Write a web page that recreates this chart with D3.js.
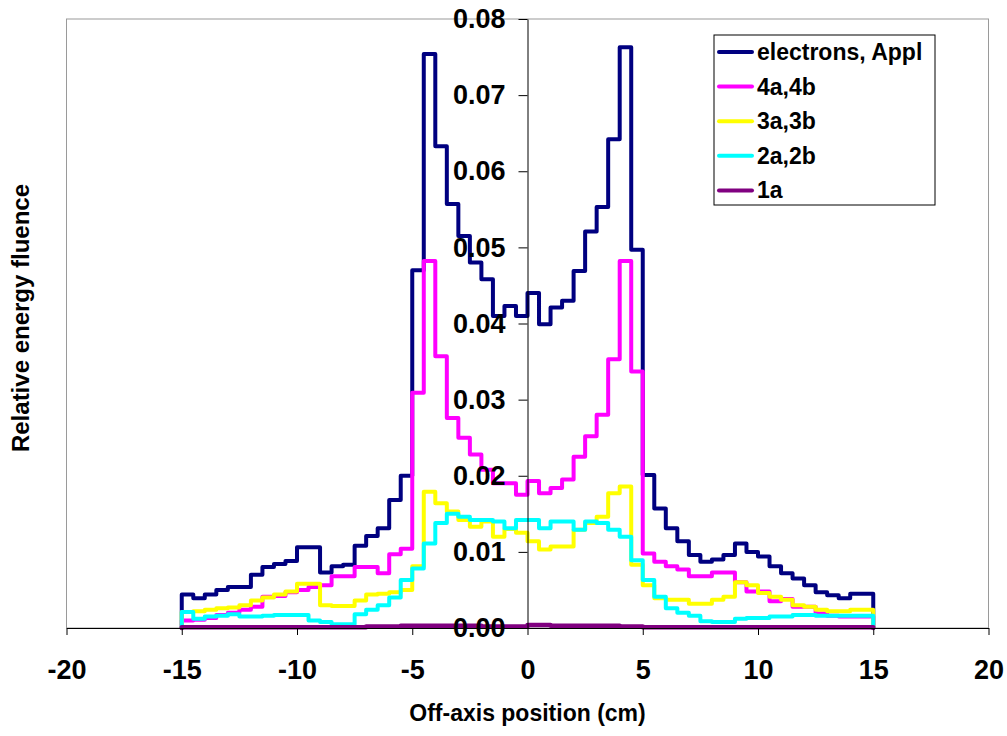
<!DOCTYPE html>
<html>
<head>
<meta charset="utf-8">
<script src="https://cdn.jsdelivr.net/npm/d3@7"></script>
<style>
  body { margin: 0; background: #fff; }
  text { font-family: Arial, "Liberation Sans", sans-serif; font-weight: bold; fill: #000; }
</style>
</head>
<body>
<div id="chart"></div>
<script>
// bin edges along the off-axis position (cm)
const binEdges = [-15, -14.5, -14, -13.5, -13, -12.5, -12, -11.5, -11, -10.5,
  -10, -9.5, -9, -8.5, -8, -7.5, -7, -6.5, -6, -5.5,
  -5, -4.5, -4, -3.5, -3, -2.5, -2, -1.5, -1, -0.5,
  0, 0.5, 1, 1.5, 2, 2.5, 3, 3.5, 4, 4.5,
  5, 5.5, 6, 6.5, 7, 7.5, 8, 8.5, 9, 9.5,
  10, 10.5, 11, 11.5, 12, 12.5, 13, 13.5, 14, 14.5, 15];

const electrons = [0.0044, 0.0039, 0.0044, 0.0050, 0.0054, 0.0054, 0.0070, 0.0080, 0.0084, 0.0088,
  0.0106, 0.0106, 0.0073, 0.0081, 0.0083, 0.0108, 0.0121, 0.0131, 0.0168, 0.0200,
  0.0470, 0.0754, 0.0633, 0.0557, 0.0515, 0.0480, 0.0458, 0.0410, 0.0423, 0.0410,
  0.0440, 0.0399, 0.0421, 0.0430, 0.0469, 0.0521, 0.0553, 0.0642, 0.0763, 0.0497,
  0.0201, 0.0157, 0.0131, 0.0114, 0.0096, 0.0087, 0.0090, 0.0096, 0.0111, 0.0100,
  0.0094, 0.0081, 0.0072, 0.0065, 0.0056, 0.0047, 0.0043, 0.0039, 0.0045, 0.0045];

const s4 = [0.0010, 0.0011, 0.0013, 0.0017, 0.0020, 0.0024, 0.0028, 0.0041, 0.0042, 0.0047,
  0.0050, 0.0054, 0.0056, 0.0068, 0.0068, 0.0080, 0.0080, 0.0072, 0.0097, 0.0104,
  0.0309, 0.0482, 0.0357, 0.0276, 0.0250, 0.0228, 0.0208, 0.0190, 0.0190, 0.0175,
  0.0193, 0.0177, 0.0184, 0.0195, 0.0225, 0.0252, 0.0280, 0.0353, 0.0482, 0.0337,
  0.0098, 0.0087, 0.0081, 0.0077, 0.0068, 0.0068, 0.0073, 0.0073, 0.0060, 0.0048,
  0.0048, 0.0035, 0.0038, 0.0028, 0.0028, 0.0019, 0.0016, 0.0015, 0.0015, 0.0015];

const s3 = [0.0021, 0.0022, 0.0024, 0.0026, 0.0027, 0.0030, 0.0036, 0.0040, 0.0044, 0.0048,
  0.0058, 0.0058, 0.0030, 0.0029, 0.0029, 0.0036, 0.0044, 0.0045, 0.0047, 0.0050,
  0.0081, 0.0179, 0.0164, 0.0153, 0.0142, 0.0133, 0.0140, 0.0120, 0.0130, 0.0125,
  0.0114, 0.0103, 0.0107, 0.0107, 0.0129, 0.0138, 0.0146, 0.0177, 0.0186, 0.0083,
  0.0056, 0.0039, 0.0037, 0.0037, 0.0032, 0.0032, 0.0037, 0.0041, 0.0060, 0.0056,
  0.0046, 0.0041, 0.0037, 0.0030, 0.0028, 0.0024, 0.0022, 0.0022, 0.0024, 0.0024];

const s2 = [0.0021, 0.0012, 0.0015, 0.0016, 0.0018, 0.0015, 0.0015, 0.0016, 0.0017, 0.0017,
  0.0017, 0.0010, 0.0008, 0.0005, 0.0005, 0.0018, 0.0024, 0.0030, 0.0040, 0.0063,
  0.0078, 0.0111, 0.0138, 0.0150, 0.0146, 0.0142, 0.0142, 0.0140, 0.0131, 0.0142,
  0.0142, 0.0131, 0.0140, 0.0140, 0.0129, 0.0140, 0.0138, 0.0129, 0.0120, 0.0089,
  0.0063, 0.0041, 0.0026, 0.0020, 0.0016, 0.0009, 0.0008, 0.0008, 0.0012, 0.0013,
  0.0013, 0.0015, 0.0015, 0.0017, 0.0017, 0.0016, 0.0016, 0.0016, 0.0016, 0.0016];

const s1 = [0.0001, 0.0001, 0.0001, 0.0001, 0.0001, 0.0001, 0.0001, 0.0001, 0.0001, 0.0001,
  0.0001, 0.0001, 0.0001, 0.0001, 0.0001, 0.0001, 0.0002, 0.0002, 0.0002, 0.0003,
  0.0003, 0.0003, 0.0003, 0.0003, 0.0003, 0.0003, 0.0002, 0.0002, 0.0002, 0.0002,
  0.0004, 0.0004, 0.0003, 0.0003, 0.0003, 0.0003, 0.0003, 0.0003, 0.0002, 0.0002,
  0.0001, 0.0001, 0.0001, 0.0001, 0.0001, 0.0001, 0.0001, 0.0001, 0.0001, 0.0001,
  0.0001, 0.0001, 0.0001, 0.0001, 0.0001, 0.0001, 0.0001, 0.0001, 0.0001, 0.0001];

const seriesNames = ["electrons, Appl", "4a,4b", "3a,3b", "2a,2b", "1a"];
const seriesValues = [electrons, s4, s3, s2, s1];
const seriesColors = ["#000080", "#FF00FF", "#FFFF00", "#00FFFF", "#800080"];

const xTicks = [-20, -15, -10, -5, 0, 5, 10, 15, 20];
const yTicks = [0, 0.01, 0.02, 0.03, 0.04, 0.05, 0.06, 0.07, 0.08];

const width = 1007;
const height = 736;

const svg = d3.select("#chart")
  .append("svg")
  .attr("width", width)
  .attr("height", height);

const x = d3.scaleLinear().domain([-20, 20]).range([66.5, 988.5]);
const y = d3.scaleLinear().domain([0, 0.08]).range([628, 19]);

/*
Plot area frame
*/
svg.append("rect")
  .attr("x", x(-20))
  .attr("y", y(0.08))
  .attr("width", x(20) - x(-20))
  .attr("height", y(0) - y(0.08))
  .attr("fill", "none")
  .attr("stroke", "#9a9a9a")
  .attr("stroke-width", 1);

/*
Series, drawn first to last like the source
*/
const line = d3.line()
  .x(d => x(d[0]))
  .y(d => y(d[1]))
  .curve(d3.curveStepAfter);

seriesValues.forEach((vals, k) => {
  var pts = [[binEdges[0], 0]];
  vals.forEach((v, i) => pts.push([binEdges[i], v]));
  pts.push([binEdges[binEdges.length - 1], vals[vals.length - 1]]);
  pts.push([binEdges[binEdges.length - 1], 0]);
  svg.append("path")
    .datum(pts)
    .attr("d", line)
    .attr("fill", "none")
    .attr("stroke", seriesColors[k])
    .attr("stroke-width", k == 4 ? 4.5 : 4)
    .attr("stroke-linejoin", "round")
    .attr("stroke-linecap", "round");
});

/*
Axes
*/
const xAxis = svg.append("g")
  .attr("transform", `translate(0,${y(0)})`)
  .call(d3.axisBottom(x).tickValues(xTicks).tickFormat(d => String(d))
    .tickSize(7).tickSizeOuter(0).tickPadding(25));
xAxis.select(".domain").attr("stroke", "#000");
xAxis.selectAll("text").style("font-size", "27px");

const yAxis = svg.append("g")
  .attr("transform", `translate(${x(0)},0)`)
  .call(d3.axisLeft(y).tickValues(yTicks).tickFormat(d => d.toFixed(2))
    .tickSize(9).tickSizeOuter(0).tickPadding(13));
yAxis.select(".domain").attr("stroke", "#000");
yAxis.selectAll("text").style("font-size", "27px");

svg.append("text")
  .attr("x", x(0))
  .attr("y", 721)
  .attr("text-anchor", "middle")
  .style("font-size", "23px")
  .text("Off-axis position (cm)");

svg.append("text")
  .attr("transform", "translate(29,318) rotate(-90)")
  .attr("text-anchor", "middle")
  .style("font-size", "24px")
  .text("Relative energy fluence");

/*
Legend
*/
const legend = svg.append("g").attr("transform", "translate(714,35)");
legend.append("rect")
  .attr("width", 221)
  .attr("height", 170)
  .attr("fill", "#fff")
  .attr("stroke", "#000")
  .attr("stroke-width", 1);
seriesNames.forEach((name, i) => {
  var ly = 17 + i * 34.6;
  legend.append("line")
    .attr("x1", 5).attr("x2", 38)
    .attr("y1", ly).attr("y2", ly)
    .attr("stroke", seriesColors[i])
    .attr("stroke-width", 4)
    .attr("stroke-linecap", "round");
  legend.append("text")
    .attr("x", 43)
    .attr("y", ly)
    .attr("dy", "0.35em")
    .style("font-size", "23px")
    .text(name);
});
</script>
</body>
</html>
